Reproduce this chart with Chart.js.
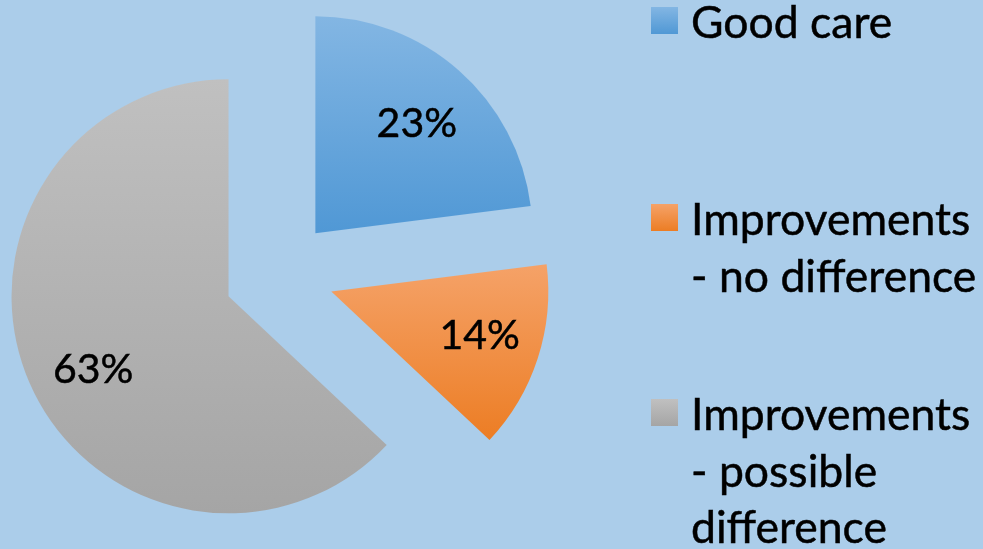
<!DOCTYPE html>
<html>
<head>
<meta charset="utf-8">
<script src="https://cdn.jsdelivr.net/npm/chart.js@4.4.0/dist/chart.umd.min.js"></script>
<style>
  body { margin: 0; background: #abcdea; }
  #wrap { position: relative; width: 983px; height: 549px; overflow: hidden; }
  #legend .swatch { position: absolute; left: 651px; width: 27px; height: 27px; }
  #legend .text {
    position: absolute; left: 691px; width: 292px;
    font-family: Lato, sans-serif; font-size: 44.5px; line-height: 56.7px;
    color: #000; white-space: nowrap; -webkit-text-stroke: 0.5px #000;
  }
</style>
</head>
<body>
<div id="wrap">
  <canvas id="pie" width="983" height="549"></canvas>
  <div id="legend"></div>
</div>
<script>
const labels = ['Good care', 'Improvements - no difference', 'Improvements - possible difference'];
const values = [23, 14, 63];
// legend text as wrapped in the original
const legendLines = [['Good care'], ['Improvements', '- no difference'], ['Improvements', '- possible', 'difference']];
const colorsTop = ['#83b6e3', '#f5a268', '#c0c0c0'];
const colorsBottom = ['#5098d5', '#ec7d24', '#a5a5a5'];

const EXPLODE = 55;
const LABEL_POS = 0.7;
// small hand nudges for the value labels, px
const labelNudge = [[1, 4], [4, -3], [4, 13]];

// slices pulled out from the centre along their middle angle
const baseDraw = Chart.ArcElement.prototype.draw;
Chart.ArcElement.prototype.draw = function (ctx) {
    const mid = (this.startAngle + this.endAngle) / 2;
    ctx.save();
    ctx.translate(Math.cos(mid) * EXPLODE, Math.sin(mid) * EXPLODE);
    baseDraw.call(this, ctx);
    ctx.restore();
};

function sliceYRange(a) {
    const r = a.outerRadius;
    const ys = [a.y, a.y + r * Math.sin(a.startAngle), a.y + r * Math.sin(a.endAngle)];
    [-Math.PI / 2, Math.PI / 2, 3 * Math.PI / 2].forEach(t => {
        if (t >= a.startAngle && t <= a.endAngle) ys.push(a.y + r * Math.sin(t));
    });
    return [Math.min(...ys), Math.max(...ys)];
}

function sliceFill(c) {
    const a = c.element;
    const i = c.dataIndex;
    if (!a || !a.outerRadius) return colorsBottom[i];
    const [y0, y1] = sliceYRange(a);
    const g = c.chart.ctx.createLinearGradient(0, y0, 0, y1);
    g.addColorStop(0, colorsTop[i]);
    g.addColorStop(1, colorsBottom[i]);
    return g;
}

const pctLabels = {
    id: 'pctLabels',
    afterDatasetsDraw(chart) {
        const ctx = chart.ctx;
        const arcs = chart.getDatasetMeta(0).data;
        ctx.save();
        ctx.font = '41px Lato, sans-serif';
        ctx.fillStyle = '#000';
        ctx.strokeStyle = '#000';
        ctx.lineWidth = 0.5;
        ctx.textAlign = 'center';
        ctx.textBaseline = 'middle';
        arcs.forEach((a, i) => {
            const mid = (a.startAngle + a.endAngle) / 2;
            const d = EXPLODE + a.outerRadius * LABEL_POS;
            const x = a.x + Math.cos(mid) * d + labelNudge[i][0];
            const y = a.y + Math.sin(mid) * d + labelNudge[i][1];
            ctx.fillText(values[i] + '%', x, y);
            ctx.strokeText(values[i] + '%', x, y);
        });
        ctx.restore();
    }
};

const chart = new Chart(document.getElementById('pie'), {
    type: 'pie',
    data: {
        labels: labels,
        datasets: [{
            data: values,
            backgroundColor: sliceFill,
            borderWidth: 0,
            radius: 217
        }]
    },
    options: {
        responsive: false,
        animation: false,
        layout: { padding: { right: 425 } },
        plugins: {
            legend: { display: false },
            tooltip: { enabled: false }
        }
    },
    plugins: [pctLabels]
});
// second pass so the gradients can use the computed slice geometry
chart.update('none');

const legendTops = [-7, 190, 385];
const legend = document.getElementById('legend');
legendLines.forEach((lines, i) => {
    const sw = document.createElement('div');
    sw.className = 'swatch';
    sw.style.top = (legendTops[i] + 14) + 'px';
    sw.style.background = `linear-gradient(${colorsTop[i]}, ${colorsBottom[i]})`;
    legend.appendChild(sw);

    const txt = document.createElement('div');
    txt.className = 'text';
    txt.style.top = legendTops[i] + 'px';
    txt.innerHTML = lines.join('<br>');
    legend.appendChild(txt);
});
</script>
</body>
</html>
